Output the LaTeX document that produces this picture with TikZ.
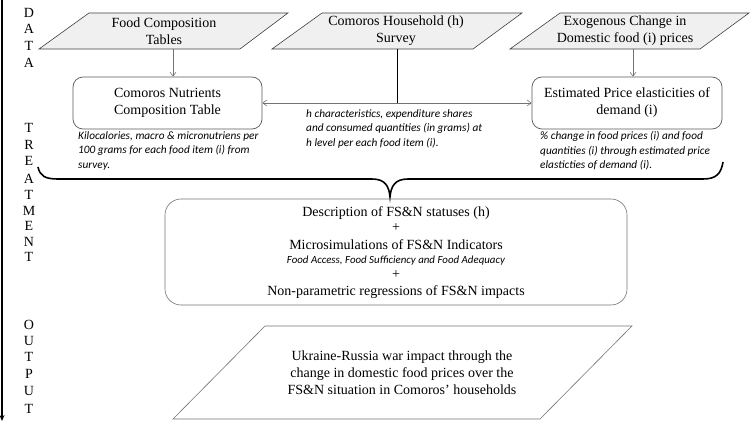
\documentclass[tikz,border=0pt]{standalone}
\usepackage{fontspec}
\setmainfont{Liberation Serif}
\newfontfamily\itfont{Carlito}
\usetikzlibrary{arrows.meta}
\begin{document}
\begin{tikzpicture}[x=1pt,y=-1pt,
  para/.style={draw=black!75, fill=black!6, line width=0.6pt},
  serif/.style={font=\fontsize{14}{17}\selectfont, align=center, inner sep=0pt},
  rbox/.style={draw=black!65, rounded corners=10pt, line width=0.7pt, align=center,
               font=\fontsize{14}{17}\selectfont, inner sep=0pt},
  note/.style={font=\itfont\itshape\fontsize{11.3}{14.5}\selectfont, align=left, inner sep=0pt, anchor=north west},
  arr/.style={draw=black!55, line width=0.6pt, -{Straight Barb[length=4pt,width=6pt]}},
  letter/.style={font=\fontsize{14}{17}\selectfont, inner sep=0pt}
]
\useasboundingbox (0,0) rectangle (750,422);

% left timeline arrow
\coordinate (tl0) at (2,0);
\coordinate (tl1) at (2,421);
\draw[line width=1.4pt, -{Stealth[length=6pt,width=5pt]}] (tl0) -- (tl1);

% side letters
\foreach \l/\y [count=\i] in {D/13,A/29,T/46,A/63,T/128,R/145,E/161,A/179,T/195,M/211,E/226,N/242,T/257,O/325,U/341,T/357,P/374,U/391,T/409}
  \node[letter] (L\i) at (29,\y) {\l};

% data parallelograms
\draw[para] (39,49) -- (89,13) -- (288,13) -- (240,49) -- cycle;
\node[serif] (fct) at (164,31) {Food Composition\\Tables};
\coordinate (fctb) at (173,49);

\draw[para] (272,49) -- (322,13) -- (522,13) -- (473,49) -- cycle;
\node[serif] (chs) at (396,31) {Comoros Household (h)\\Survey};
\coordinate (chsb) at (397,49);

\draw[para] (510,49) -- (560,13) -- (749,13) -- (700,49) -- cycle;
\node[serif] (exo) at (625,31) {Exogenous Change in\\Domestic food (i) prices};
\coordinate (exob) at (633,49);

% rounded boxes
\node[rbox, minimum width=189pt, minimum height=52pt] (cnt) at (167.5,103) {Comoros Nutrients\\Composition Table};
\node[rbox, minimum width=190pt, minimum height=52pt] (epe) at (627,103) {Estimated Price elasticities of\\demand (i)};

\draw[arr] (fctb) -- (fctb |- cnt.north);
\draw[arr] (exob) -- (exob |- epe.north);
\coordinate (join) at (397,103);
\draw[line width=0.9pt] (chsb) -- (join);
\draw[arr, {Straight Barb[length=4pt,width=6pt]}-{Straight Barb[length=4pt,width=6pt]}] (cnt.east) -- (epe.west);

% notes
\node[note] (n1) at (78,131) {Kilocalories, macro \& micronutriens per\\100 grams for each food item (i) from\\survey.};
\node[note] (n2) at (306,109) {h characteristics, expenditure shares\\and consumed quantities (in grams) at\\h level per each food item (i).};
\node[note] (n3) at (540,131.5) {\% change in food prices (i) and food\\quantities (i) through estimated price\\elasticties of demand (i).};

% brace
\draw[line width=1.6pt] (38,167) .. controls (40,176) and (45,179) .. (58,179) -- (372,179)
  .. controls (385,179) and (389,186) .. (390,197)
  .. controls (391,186) and (395,179) .. (408,179) -- (703,179)
  .. controls (716,179) and (721,174) .. (723,162);

% main treatment box
\node[draw=black!55, rounded corners=16pt, line width=0.6pt, minimum width=462pt, minimum height=106pt] (mb) at (396,252) {};
\node[serif, anchor=mid] (t1) at (396,214) {Description of FS\&N statuses (h)};
\node[serif, anchor=mid] (t2) at (396,229) {+};
\node[serif, anchor=mid] (t3) at (396,247) {Microsimulations of FS\&N Indicators};
\node[font=\itfont\itshape\fontsize{10.9}{12}\selectfont, inner sep=0pt, anchor=mid] (t4) at (396,261) {Food Access, Food Sufficiency and Food Adequacy};
\node[serif, anchor=mid] (t5) at (396,276) {+};
\node[serif, anchor=mid] (t6) at (396,293) {Non-parametric regressions of FS\&N impacts};

% output parallelogram
\draw[draw=black!55, line width=0.6pt, fill=white] (173,419) -- (265,326) -- (632,326) -- (540,419) -- cycle;
\node[serif] (out) at (402,373) {Ukraine-Russia war impact through the\\change in domestic food prices over the\\FS\&N situation in Comoros’ households};
\end{tikzpicture}
\end{document}
